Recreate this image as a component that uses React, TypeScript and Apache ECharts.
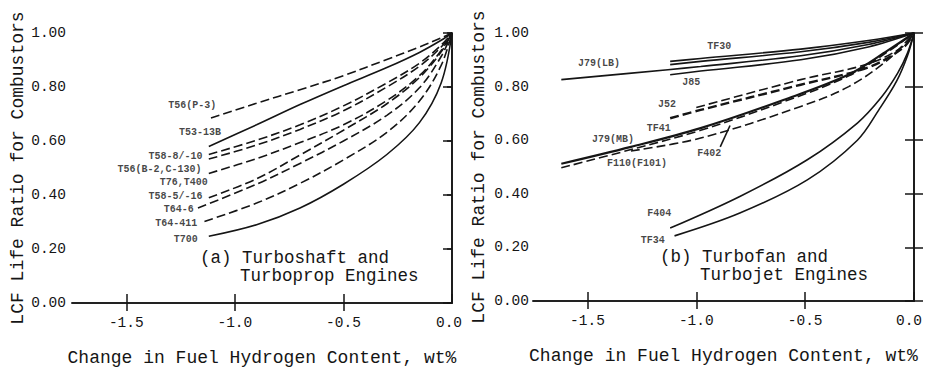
import React, { useEffect, useRef } from "react";
import * as echarts from "echarts";

type P = [number, number];

// ---- Panel (a): Turboshaft and Turboprop Engines ----
const T56P3: P[] = [[-1.11, 0.685], [-0.9, 0.74], [-0.7, 0.79], [-0.5, 0.842], [-0.3, 0.902], [-0.15, 0.948], [-0.05, 0.982], [0, 1]];
const T53_13B: P[] = [[-1.12, 0.58], [-0.9, 0.66], [-0.7, 0.735], [-0.5, 0.805], [-0.3, 0.872], [-0.15, 0.928], [-0.05, 0.973], [0, 1]];
const T58_8: P[] = [[-1.12, 0.55], [-0.9, 0.603], [-0.7, 0.66], [-0.5, 0.73], [-0.3, 0.815], [-0.15, 0.888], [-0.05, 0.955], [0, 1]];
const T56B2: P[] = [[-1.12, 0.533], [-0.9, 0.585], [-0.7, 0.643], [-0.5, 0.712], [-0.3, 0.8], [-0.15, 0.877], [-0.05, 0.948], [0, 1]];
const T76: P[] = [[-1.12, 0.48], [-0.9, 0.535], [-0.7, 0.594], [-0.5, 0.66], [-0.3, 0.75], [-0.15, 0.842], [-0.05, 0.935], [0, 1]];
const T58_5: P[] = [[-1.12, 0.39], [-0.9, 0.46], [-0.7, 0.548], [-0.5, 0.64], [-0.3, 0.738], [-0.15, 0.835], [-0.05, 0.93], [0, 1]];
const T64_6: P[] = [[-1.17, 0.352], [-0.9, 0.44], [-0.7, 0.517], [-0.5, 0.6], [-0.3, 0.695], [-0.15, 0.797], [-0.05, 0.913], [0, 1]];
const T64_411: P[] = [[-1.14, 0.302], [-0.9, 0.37], [-0.7, 0.443], [-0.5, 0.53], [-0.3, 0.632], [-0.15, 0.748], [-0.05, 0.88], [0, 1]];
const T700: P[] = [[-1.12, 0.247], [-0.9, 0.29], [-0.7, 0.352], [-0.5, 0.44], [-0.3, 0.55], [-0.15, 0.668], [-0.05, 0.815], [0, 1]];

const leftSeries: { name: string; data: P[]; dashed: boolean }[] = [
  { name: "T56(P-3)", data: T56P3, dashed: true },
  { name: "T53-13B", data: T53_13B, dashed: false },
  { name: "T58-8/-10", data: T58_8, dashed: true },
  { name: "T56(B-2,C-130)", data: T56B2, dashed: true },
  { name: "T76,T400", data: T76, dashed: true },
  { name: "T58-5/-16", data: T58_5, dashed: true },
  { name: "T64-6", data: T64_6, dashed: true },
  { name: "T64-411", data: T64_411, dashed: true },
  { name: "T700", data: T700, dashed: false },
];

const leftLabels: [number, number, string][] = [
  [-1.196, 0.731, "T56(P-3)"],
  [-1.16, 0.63, "T53-13B"],
  [-1.273, 0.543, "T58-8/-10"],
  [-1.347, 0.496, "T56(B-2,C-130)"],
  [-1.235, 0.447, "T76,T400"],
  [-1.273, 0.395, "T58-5/-16"],
  [-1.258, 0.346, "T64-6"],
  [-1.27, 0.294, "T64-411"],
  [-1.226, 0.234, "T700"],
];

// ---- Panel (b): Turbofan and Turbojet Engines ----
const TF30: P[] = [[-1.12, 0.894], [-0.98, 0.905], [-0.52, 0.94], [-0.21, 0.972], [0, 1]];
const TF30b: P[] = [[-1.12, 0.882], [-0.98, 0.894], [-0.52, 0.93], [-0.21, 0.965], [0, 1]];
const J79LB: P[] = [[-1.62, 0.826], [-1.13, 0.863], [-0.98, 0.875], [-0.52, 0.915], [-0.21, 0.957], [0, 1]];
const J85: P[] = [[-1.12, 0.844], [-0.98, 0.858], [-0.52, 0.9], [-0.21, 0.948], [0, 1]];
const J52: P[] = [[-1.0, 0.722], [-0.52, 0.826], [-0.21, 0.885], [-0.05, 0.95], [0, 1]];
const TF41: P[] = [[-1.12, 0.682], [-0.98, 0.713], [-0.52, 0.807], [-0.21, 0.872], [-0.05, 0.945], [0, 1]];
const J79MB: P[] = [[-1.62, 0.512], [-1.3, 0.575], [-0.98, 0.645], [-0.6, 0.75], [-0.3, 0.845], [-0.12, 0.935], [0, 1]];
const F110: P[] = [[-1.62, 0.497], [-1.3, 0.565], [-0.98, 0.637], [-0.6, 0.743], [-0.3, 0.84], [-0.12, 0.93], [0, 1]];
const F402: P[] = [[-1.3, 0.56], [-0.98, 0.608], [-0.52, 0.726], [-0.3, 0.8], [-0.12, 0.9], [0, 1]];
const F404: P[] = [[-1.12, 0.272], [-0.8, 0.39], [-0.49, 0.527], [-0.26, 0.664], [-0.15, 0.76], [-0.075, 0.85], [-0.03, 0.925], [0, 1]];
const TF34: P[] = [[-1.1, 0.243], [-0.8, 0.328], [-0.49, 0.452], [-0.26, 0.6], [-0.16, 0.715], [-0.08, 0.82], [-0.03, 0.915], [0, 1]];
const F402Pointer: P[] = [[-0.89, 0.575], [-0.845, 0.655]];

const rightSeries: { name: string; data: P[]; dashed: boolean; width?: number }[] = [
  { name: "TF30", data: TF30, dashed: false },
  { name: "TF30 (2)", data: TF30b, dashed: false },
  { name: "J79(LB)", data: J79LB, dashed: false },
  { name: "J85", data: J85, dashed: false },
  { name: "J52", data: J52, dashed: true },
  { name: "TF41", data: TF41, dashed: true, width: 2.4 },
  { name: "J79(MB)", data: J79MB, dashed: false, width: 2.2 },
  { name: "F110(F101)", data: F110, dashed: true },
  { name: "F402", data: F402, dashed: true },
  { name: "F404", data: F404, dashed: false },
  { name: "TF34", data: TF34, dashed: false },
];

const rightLabels: [number, number, string][] = [
  [-0.894, 0.95, "TF30"],
  [-1.447, 0.888, "J79(LB)"],
  [-1.023, 0.814, "J85"],
  [-1.134, 0.732, "J52"],
  [-1.172, 0.645, "TF41"],
  [-1.382, 0.604, "J79(MB)"],
  [-1.272, 0.512, "F110(F101)"],
  [-0.94, 0.549, "F402"],
  [-1.17, 0.325, "F404"],
  [-1.2, 0.225, "TF34"],
];

const xTicks = [-1.5, -1.0, -0.5, 0.0];
const xTopTicks = [-1.5, -1.0, -0.5];
const X_MIN = -1.75;
const X_MAX = 0;
const Y_TITLE = "LCF Life Ratio for Combustors";
const X_TITLE = "Change in Fuel Hydrogen Content, wt%";

const FONT = "'Liberation Mono', 'DejaVu Sans Mono', monospace";
const INK = "#151515";

export default function App() {
  const ref = useRef<HTMLDivElement>(null);
  useEffect(() => {
    if (!ref.current) return;
    const chart = echarts.init(ref.current, undefined, { renderer: "svg" });

    const grids = [
      { left: 72, top: 33, width: 380, height: 270, outerBoundsMode: "none", containLabel: false },
      { left: 533, top: 33, width: 381, height: 268, outerBoundsMode: "none", containLabel: false },
    ];

    const xAxes: any[] = [];
    const yAxes: any[] = [];
    [0, 1].forEach((g) => {
      xAxes.push({
        type: "value",
        gridIndex: g,
        min: X_MIN,
        max: X_MAX,
        position: "bottom",
        name: X_TITLE,
        nameLocation: "middle",
        nameGap: 46,
        nameTextStyle: { fontFamily: FONT, fontSize: 18, color: INK },
        axisLine: { show: true, lineStyle: { color: INK, width: 1.6 } },
        axisTick: { show: true, inside: true, length: 9, customValues: xTicks, lineStyle: { color: INK, width: 1.5 } },
        axisLabel: {
          customValues: xTicks,
          formatter: (v: number) => (Math.abs(v) < 1e-9 ? "{e|0.0}" : v.toFixed(1)),
          fontFamily: FONT,
          fontSize: 14.5,
          color: INK,
          margin: 12,
          rich: {
            e: { fontFamily: FONT, fontSize: 14.5, color: INK, padding: [0, g === 1 ? 10 : 6, 0, 0] },
          },
        },
        splitLine: { show: false },
      });
      xAxes.push({
        type: "value",
        gridIndex: g,
        min: X_MIN,
        max: X_MAX,
        position: "top",
        axisLine: { show: true, lineStyle: { color: INK, width: 1.6 } },
        axisTick: { show: true, inside: true, length: 8, customValues: xTopTicks, lineStyle: { color: INK, width: 1.5 } },
        axisLabel: { show: false },
        splitLine: { show: false },
      });
      yAxes.push({
        type: "value",
        gridIndex: g,
        min: 0,
        max: 1,
        interval: 0.2,
        position: "left",
        name: Y_TITLE,
        nameLocation: "middle",
        nameRotate: 90,
        nameGap: 45,
        nameTextStyle: { fontFamily: FONT, fontSize: 18, color: INK },
        axisLine: { show: true, lineStyle: { color: INK, width: 1.6 } },
        axisTick: { show: true, inside: g === 1, length: g === 1 ? 9 : 5, lineStyle: { color: INK, width: 1.5 } },
        axisLabel: {
          formatter: (v: number) => v.toFixed(2),
          fontFamily: FONT,
          fontSize: 14.5,
          color: INK,
          margin: g === 1 ? 4 : 6,
        },
        splitLine: { show: false },
      });
      yAxes.push({
        type: "value",
        gridIndex: g,
        min: 0,
        max: 1,
        interval: 0.2,
        position: "right",
        axisLine: { show: true, lineStyle: { color: INK, width: 1.6 } },
        axisTick: { show: true, inside: true, length: 9, lineStyle: { color: INK, width: 1.5 } },
        axisLabel: { show: false },
        splitLine: { show: false },
      });
    });

    const mkLine = (s: { name: string; data: P[]; dashed: boolean; width?: number }, g: number) => ({
      type: "line",
      name: s.name,
      xAxisIndex: g * 2,
      yAxisIndex: g * 2,
      data: s.data,
      smooth: 0.35,
      showSymbol: false,
      symbol: "none",
      silent: true,
      lineStyle: {
        color: INK,
        width: s.width ?? 1.6,
        type: s.dashed ? [9, 4] : "solid",
      },
    });

    const mkLabels = (labels: [number, number, string][], g: number) => ({
      type: "scatter",
      xAxisIndex: g * 2,
      yAxisIndex: g * 2,
      symbolSize: 0,
      silent: true,
      data: labels.map((l) => ({ value: [l[0], l[1]], name: l[2] })),
      label: {
        show: true,
        position: "inside",
        formatter: (p: any) => p.name,
        fontFamily: FONT,
        fontWeight: "bold",
        fontSize: 10,
        color: INK,
      },
    });

    const series: any[] = [
      ...leftSeries.map((s) => mkLine(s, 0)),
      ...rightSeries.map((s) => mkLine(s, 1)),
      {
        type: "line",
        xAxisIndex: 2,
        yAxisIndex: 2,
        data: F402Pointer,
        showSymbol: false,
        symbol: "none",
        silent: true,
        lineStyle: { color: INK, width: 1.6 },
      },
      mkLabels(leftLabels, 0),
      mkLabels(rightLabels, 1),
    ];

    const annoStyle = { fontFamily: FONT, fontSize: 17.5, fill: INK };
    chart.setOption({
      animation: false,
      backgroundColor: "#ffffff",
      grid: grids,
      xAxis: xAxes,
      yAxis: yAxes,
      series,
      graphic: [
        { type: "text", left: 200, top: 249, style: { ...annoStyle, text: "(a) Turboshaft and" } },
        { type: "text", left: 240, top: 267, style: { ...annoStyle, text: "Turboprop Engines" } },
        { type: "text", left: 660, top: 248, style: { ...annoStyle, text: "(b) Turbofan and" } },
        { type: "text", left: 700, top: 266, style: { ...annoStyle, text: "Turbojet Engines" } },
      ],
    });

    return () => chart.dispose();
  }, []);

  return (
    <div
      ref={ref}
      style={{ position: "fixed", left: 0, top: 0, width: 925, height: 368, overflow: "hidden" }}
    />
  );
}
